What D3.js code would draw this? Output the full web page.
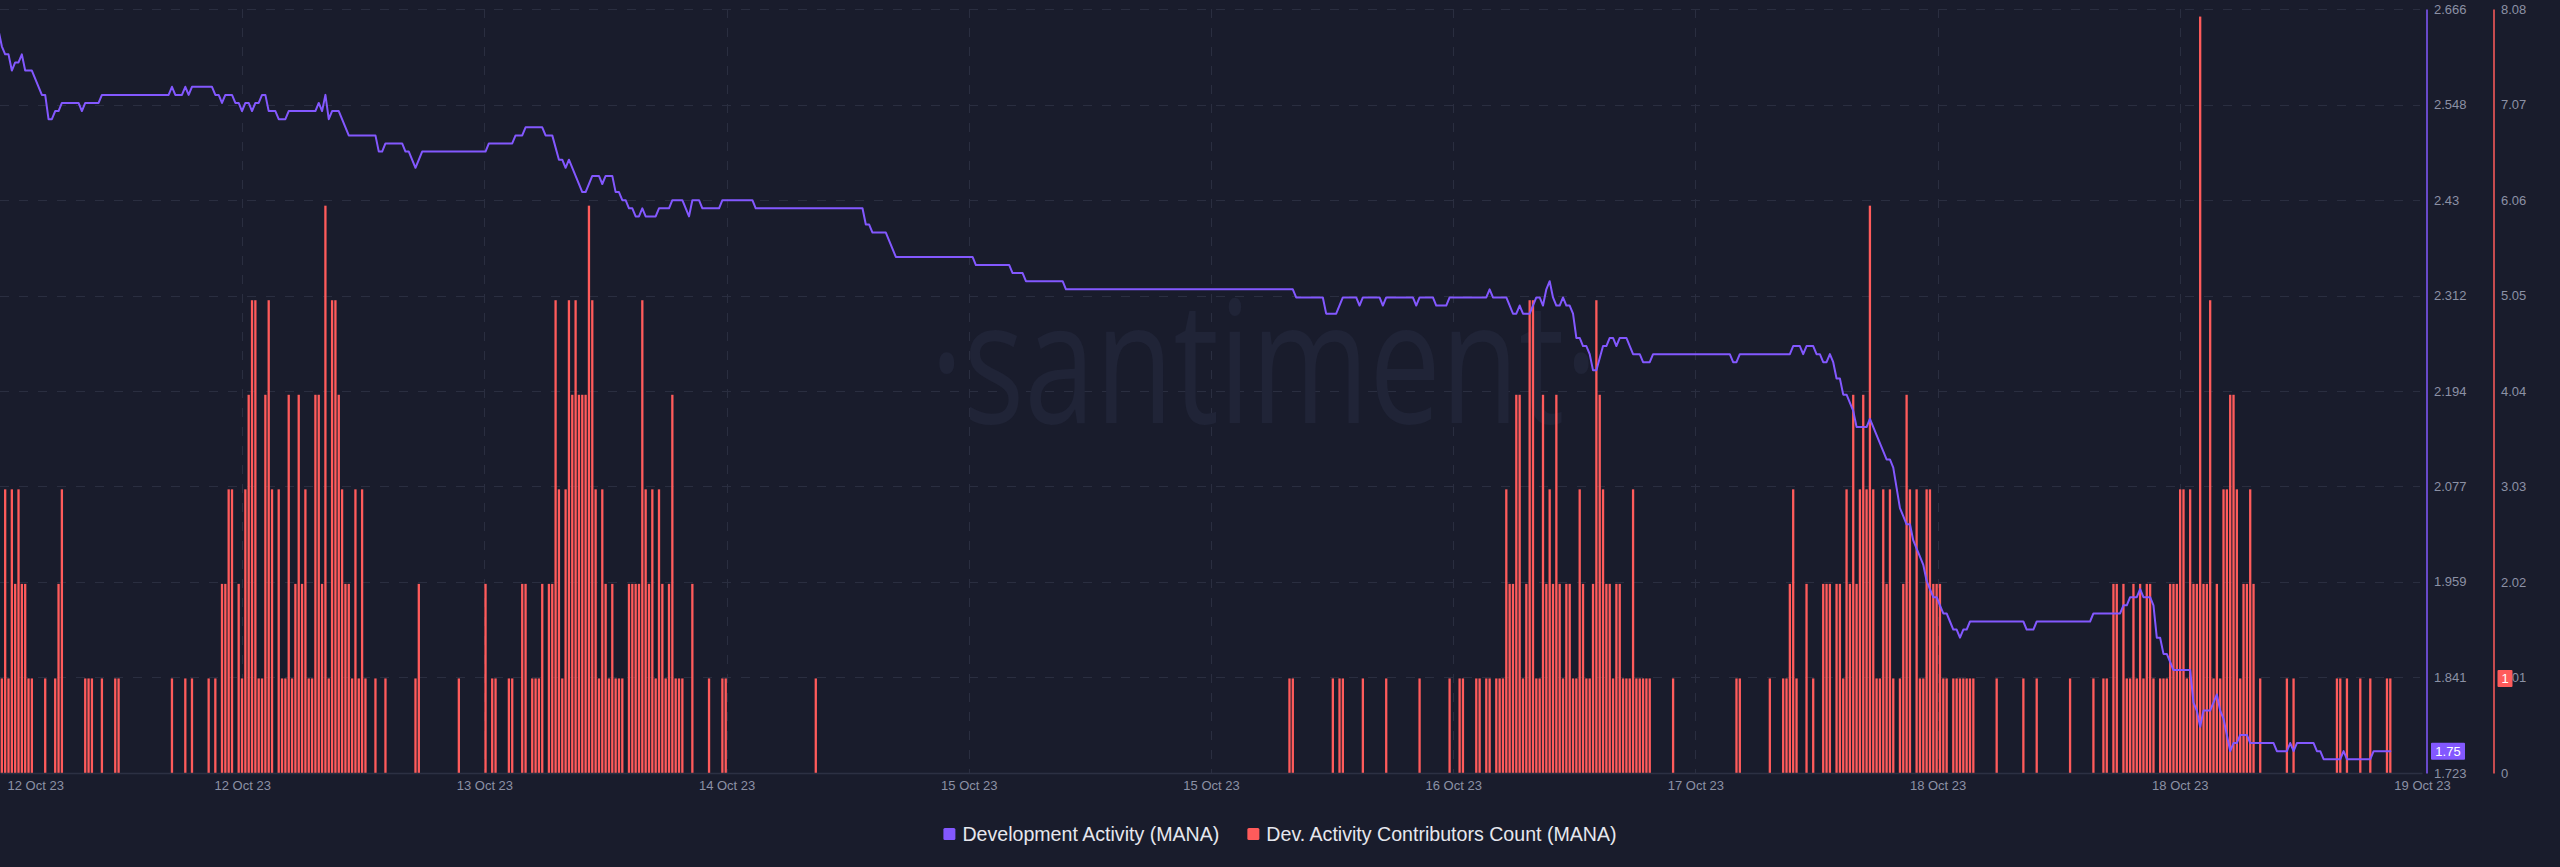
<!DOCTYPE html>
<html><head><meta charset="utf-8">
<script src="https://cdn.jsdelivr.net/npm/d3@7"></script>
<style>
html,body{margin:0;padding:0;background:#191c2c;overflow:hidden}
svg{display:block}
</style></head><body>
<svg id="chart" width="2560" height="867"></svg>
<script>
// ---------- DATA ----------
// time slots: 15-minute buckets starting 12 Oct 2023 01:00 UTC
const startTime = Date.UTC(2023, 9, 12, 1, 0);
const slotMinutes = 15;
const domainStartSlot = 0.45, domainEndSlot = 726.5;
const xTickCount = 11;

const seriesNames = ["Development Activity (MANA)", "Dev. Activity Contributors Count (MANA)"];

// Dev. Activity Contributors Count, one value per slot (0 = no bar)
const contributorsCount = [
6,1,3,1,3,2,3,2,2,1,1,0,0,0,1,0,0,1,2,3,
0,0,0,0,0,0,1,1,1,0,0,1,0,0,0,1,1,0,0,0,
0,0,0,0,0,0,0,0,0,0,0,0,1,0,0,0,1,0,1,0,
0,0,0,1,0,1,0,2,2,3,3,0,2,1,3,4,5,5,1,1,
4,5,3,0,3,1,1,4,1,2,4,2,3,1,1,4,4,2,6,1,
5,5,4,3,2,2,1,3,1,3,1,0,0,1,0,0,1,0,0,0,
0,0,0,0,0,1,2,0,0,0,0,0,0,0,0,0,0,0,1,0,
0,0,0,0,0,0,2,0,1,1,0,0,0,1,1,0,0,2,2,0,
1,1,1,2,0,2,2,5,3,1,3,5,4,5,4,4,4,6,5,3,
1,3,2,1,2,1,1,1,0,2,2,2,2,5,3,2,3,1,3,2,
1,2,4,1,1,1,0,0,2,0,0,0,0,1,0,0,0,1,1,0,
0,0,0,0,0,0,0,0,0,0,0,0,0,0,0,0,0,0,0,0,
0,0,0,0,0,1,0,0,0,0,0,0,0,0,0,0,0,0,0,0,
0,0,0,0,0,0,0,0,0,0,0,0,0,0,0,0,0,0,0,0,
0,0,0,0,0,0,0,0,0,0,0,0,0,0,0,0,0,0,0,0,
0,0,0,0,0,0,0,0,0,0,0,0,0,0,0,0,0,0,0,0,
0,0,0,0,0,0,0,0,0,0,0,0,0,0,0,0,0,0,0,0,
0,0,0,0,0,0,0,0,0,0,0,0,0,0,0,0,0,0,0,0,
0,0,0,0,0,0,0,0,0,0,0,0,0,0,0,0,0,0,0,0,
0,0,0,0,0,0,0,1,1,0,0,0,0,0,0,0,0,0,0,0,
1,0,1,1,0,0,0,0,0,1,0,0,0,0,0,0,1,0,0,0,
0,0,0,0,0,0,1,0,0,0,0,0,0,0,0,1,0,0,1,1,
0,0,0,1,1,0,1,1,0,1,1,1,3,2,2,4,4,1,2,5,
5,1,1,4,2,3,2,4,2,1,2,2,1,1,3,2,1,1,2,5,
4,3,2,2,1,2,2,1,1,1,3,1,1,1,1,1,0,0,0,0,
0,0,1,0,0,0,0,0,0,0,0,0,0,0,0,0,0,0,0,0,
0,1,1,0,0,0,0,0,0,0,0,1,0,0,0,1,1,2,3,1,
0,0,2,0,1,0,0,2,2,2,0,2,2,1,3,2,4,2,3,4,
3,6,3,1,1,3,2,3,1,0,1,2,4,3,0,3,1,1,3,3,
2,2,2,1,1,0,1,1,1,1,1,1,1,0,0,0,0,0,0,1,
0,0,0,0,0,0,0,1,0,0,0,1,0,0,0,0,0,0,0,0,
0,1,0,0,0,0,0,0,1,0,0,1,1,0,2,2,0,2,1,1,
2,1,2,1,2,2,1,0,1,1,1,2,2,2,3,3,1,3,2,2,
8,2,2,5,1,2,1,3,3,4,4,3,1,2,2,3,2,0,1,0,
0,0,0,0,0,0,1,0,1,0,0,0,0,0,0,0,0,0,0,0,
0,1,1,0,1,0,0,0,1,0,0,1,0,0,0,0,1,1
];

// Development Activity: [slot, value] at each change of the line
const devActivity = [
[0,2.64],[1,2.62],[2,2.61],[3,2.61],[4,2.59],[5,2.60],[6,2.60],[7,2.61],[8,2.59],[10,2.59],
[13,2.56],[14,2.56],[15,2.53],[16,2.53],[17,2.54],[18,2.54],[19,2.55],[24,2.55],[25,2.54],[26,2.55],
[30,2.55],[31,2.56],[51,2.56],[52,2.57],[53,2.56],[55,2.56],[56,2.57],[57,2.56],[58,2.57],[64,2.57],
[65,2.56],[66,2.56],[67,2.55],[68,2.56],[70,2.56],[71,2.55],[72,2.55],[73,2.54],[74,2.55],[75,2.55],
[76,2.54],[77,2.55],[78,2.55],[79,2.56],[80,2.56],[81,2.54],[83,2.54],[84,2.53],[86,2.53],[87,2.54],
[95,2.54],[96,2.55],[97,2.54],[98,2.56],[99,2.53],[100,2.54],[102,2.54],[105,2.51],[113,2.51],[114,2.49],
[115,2.49],[116,2.50],[121,2.50],[122,2.49],[123,2.49],[125,2.47],[127,2.49],[146,2.49],[147,2.50],[154,2.50],
[155,2.51],[157,2.51],[158,2.52],[163,2.52],[164,2.51],[166,2.51],[168,2.48],[169,2.48],[170,2.47],[171,2.48],
[173,2.46],[175,2.44],[176,2.44],[178,2.46],[180,2.46],[181,2.45],[182,2.46],[184,2.46],[185,2.44],[186,2.44],
[187,2.43],[188,2.43],[189,2.42],[190,2.42],[191,2.41],[192,2.41],[193,2.42],[194,2.41],[197,2.41],[198,2.42],
[201,2.42],[202,2.43],[205,2.43],[207,2.41],[208,2.43],[210,2.43],[211,2.42],[216,2.42],[217,2.43],[226,2.43],
[227,2.42],[259,2.42],[260,2.40],[261,2.40],[262,2.39],[266,2.39],[269,2.36],[292,2.36],[293,2.35],[303,2.35],
[304,2.34],[307,2.34],[308,2.33],[319,2.33],[320,2.32],[388,2.32],[389,2.31],[397,2.31],[398,2.29],[401,2.29],
[403,2.31],[407,2.31],[408,2.30],[409,2.31],[414,2.31],[415,2.30],[416,2.31],[424,2.31],[425,2.30],[426,2.31],
[430,2.31],[431,2.30],[434,2.30],[435,2.31],[446,2.31],[447,2.32],[448,2.31],[452,2.31],[454,2.29],[455,2.29],
[456,2.30],[457,2.29],[459,2.29],[461,2.31],[462,2.31],[463,2.30],[464,2.32],[465,2.33],[466,2.31],[467,2.30],
[468,2.30],[469,2.31],[470,2.30],[471,2.30],[472,2.29],[473,2.26],[474,2.26],[475,2.25],[476,2.25],[477,2.24],
[478,2.22],[479,2.22],[481,2.25],[482,2.25],[483,2.26],[484,2.26],[485,2.25],[486,2.26],[488,2.26],[490,2.24],
[492,2.24],[493,2.23],[495,2.23],[496,2.24],[519,2.24],[520,2.23],[521,2.23],[522,2.24],[537,2.24],[538,2.25],
[540,2.25],[541,2.24],[542,2.25],[544,2.25],[545,2.24],[546,2.24],[547,2.23],[548,2.23],[549,2.24],[550,2.23],
[551,2.21],[552,2.21],[553,2.19],[554,2.19],[556,2.17],[557,2.15],[560,2.15],[561,2.16],[566,2.11],[567,2.11],
[568,2.10],[570,2.05],[571,2.04],[572,2.03],[573,2.03],[574,2.01],[575,2.00],[576,1.99],[577,1.98],[578,1.96],
[579,1.95],[580,1.94],[581,1.94],[582,1.93],[583,1.92],[584,1.92],[585,1.91],[586,1.90],[587,1.90],[588,1.89],
[589,1.90],[590,1.90],[591,1.91],[607,1.91],[608,1.90],[610,1.90],[611,1.91],[627,1.91],[628,1.92],[636,1.92],
[637,1.93],[638,1.93],[639,1.94],[641,1.94],[642,1.95],[643,1.94],[645,1.94],[646,1.93],[647,1.89],[648,1.89],
[649,1.87],[650,1.87],[652,1.85],[657,1.85],[658,1.81],[659,1.80],[660,1.78],[661,1.80],[663,1.80],[665,1.82],
[666,1.80],[667,1.79],[669,1.75],[670,1.76],[671,1.76],[672,1.77],[674,1.77],[675,1.76],[682,1.76],[683,1.75],
[686,1.75],[687,1.76],[688,1.75],[689,1.76],[694,1.76],[695,1.75],[696,1.75],[697,1.74],[702,1.74],[703,1.75],
[704,1.74],[711,1.74],[712,1.75],[717,1.75]
];

const devTicks = [1.723, 1.841, 1.959, 2.077, 2.194, 2.312, 2.43, 2.548, 2.666];
const countTicks = [0, 1.01, 2.02, 3.03, 4.04, 5.05, 6.06, 7.07, 8.08];
const lastDevLabel = "1.75";
const lastCountLabel = "1";

// ---------- STYLE / LAYOUT ----------
const W = 2560, H = 867;
const plot = {left: 0, right: 2422, top: 9, bottom: 773};
const C = {
  bg: "#191c2c", purple: "#8358ff", red: "#ff5b5b", grid: "#2a2e40",
  axisLine: "#2c3043", tick: "#8c91a5", legend: "#e6e7ee", watermark: "#202437"
};
const FONT = "'Liberation Sans', Arial, Helvetica, sans-serif";

const svg = d3.select("#chart");
svg.append("rect").attr("width", W).attr("height", H).attr("fill", C.bg);

const slotMs = slotMinutes * 60000;
const slotTime = i => new Date(startTime + i * slotMs);

const x = d3.scaleUtc()
  .domain([slotTime(domainStartSlot), slotTime(domainEndSlot)])
  .range([plot.left, plot.right]);
const yDev = d3.scaleLinear()
  .domain([devTicks[0], devTicks[devTicks.length - 1]])
  .range([plot.bottom, plot.top]);
const yCnt = d3.scaleLinear()
  .domain([countTicks[0], countTicks[countTicks.length - 1]])
  .range([plot.bottom, plot.top]);

const [d0, d1] = x.domain();
const xTicks = d3.range(xTickCount).map(k => new Date(+d0 + k * (d1 - d0) / (xTickCount - 1)));

// ---------- GRID ----------
const grid = svg.append("g").attr("shape-rendering", "crispEdges");
grid.selectAll("line.h").data(devTicks.slice(1)).join("line").attr("class", "h")
  .attr("x1", plot.left).attr("x2", plot.right - 2)
  .attr("y1", d => Math.round(yDev(d)) + 0.5).attr("y2", d => Math.round(yDev(d)) + 0.5)
  .attr("stroke", C.grid).attr("stroke-dasharray", "9,10");
grid.selectAll("line.v").data(xTicks.slice(1, -1)).join("line").attr("class", "v")
  .attr("x1", d => Math.round(x(d)) + 0.5).attr("x2", d => Math.round(x(d)) + 0.5)
  .attr("y1", plot.top).attr("y2", plot.bottom)
  .attr("stroke", C.grid).attr("stroke-dasharray", "9,10");

// ---------- WATERMARK ----------
svg.append("text")
  .attr("x", 930).attr("y", 423)
  .attr("textLength", 668).attr("lengthAdjust", "spacingAndGlyphs")
  .attr("font-family", "'Open Sans', 'Noto Sans', sans-serif")
  .attr("font-size", 170)
  .attr("fill", C.watermark)
  .text("·santiment·");

// ---------- CLIP ----------
svg.append("defs").append("clipPath").attr("id", "plotClip")
  .append("rect").attr("x", plot.left).attr("y", 0)
  .attr("width", plot.right - plot.left).attr("height", plot.bottom);

const plotG = svg.append("g").attr("clip-path", "url(#plotClip)");

// ---------- BARS ----------
const barW = 2.3;
const barData = contributorsCount.map((v, i) => ({t: slotTime(i), v})).filter(d => d.v > 0);
plotG.append("g").selectAll("rect").data(barData).join("rect")
  .attr("x", d => x(d.t) - barW / 2)
  .attr("width", barW)
  .attr("y", d => yCnt(d.v))
  .attr("height", d => plot.bottom - yCnt(d.v))
  .attr("fill", C.red);

// ---------- LINE ----------
const lineData = devActivity.map(([s, v]) => ({t: slotTime(s), v}));
plotG.append("path")
  .attr("d", d3.line().x(d => x(d.t)).y(d => yDev(d.v))(lineData))
  .attr("fill", "none").attr("stroke", C.purple)
  .attr("stroke-width", 2).attr("stroke-linejoin", "round").attr("stroke-linecap", "round");

// ---------- X AXIS ----------
const gx = svg.append("g").attr("transform", `translate(0,${plot.bottom})`)
  .call(d3.axisBottom(x).tickValues(xTicks).tickFormat(d3.utcFormat("%d %b %y"))
    .tickSize(0).tickSizeOuter(0).tickPadding(8));
gx.attr("font-family", FONT).attr("font-size", 13);
gx.select(".domain").attr("stroke", C.axisLine).attr("stroke-width", 1.5);
gx.selectAll("text").attr("fill", C.tick);
gx.select(".tick text").attr("text-anchor", "start").attr("x", 7);

// ---------- RIGHT AXES ----------
const devFmt = d => String(+d.toFixed(3));
const cntFmt = d => d === 0 ? "0" : d.toFixed(2);

const gDev = svg.append("g").attr("transform", "translate(2426.5,0)")
  .call(d3.axisRight(yDev).tickValues(devTicks).tickFormat(devFmt)
    .tickSize(0).tickSizeOuter(0).tickPadding(7.5));
gDev.attr("font-family", FONT).attr("font-size", 13);
gDev.select(".domain").attr("stroke", C.purple).attr("stroke-width", 1.5);
gDev.selectAll("text").attr("fill", C.tick);

const gCnt = svg.append("g").attr("transform", "translate(2493.5,0)")
  .call(d3.axisRight(yCnt).tickValues(countTicks).tickFormat(cntFmt)
    .tickSize(0).tickSizeOuter(0).tickPadding(7.5));
gCnt.attr("font-family", FONT).attr("font-size", 13);
gCnt.select(".domain").attr("stroke", C.red).attr("stroke-width", 1.5);
gCnt.selectAll("text").attr("fill", C.tick);

// ---------- LAST VALUE LABELS ----------
const lastDev = devActivity[devActivity.length - 1][1];
const lastCount = contributorsCount[contributorsCount.length - 1];
function valueTag(cx, cy, w, fill, label) {
  const g = svg.append("g");
  g.append("rect").attr("x", cx - w / 2).attr("y", cy - 8.5).attr("width", w).attr("height", 17)
    .attr("rx", 1).attr("fill", fill);
  g.append("text").attr("x", cx).attr("y", cy).attr("dy", "0.35em")
    .attr("text-anchor", "middle").attr("font-family", FONT).attr("font-size", 13)
    .attr("fill", "#ffffff").text(label);
}
valueTag(2448, yDev(lastDev), 34, C.purple, lastDevLabel);
valueTag(2505, yCnt(lastCount), 15, C.red, lastCountLabel);

// ---------- LEGEND ----------
const legend = svg.append("g").attr("font-family", FONT).attr("font-size", 19.6);
const legendColors = [C.purple, C.red];
const items = seriesNames.map((name, i) => {
  const g = legend.append("g");
  g.append("rect").attr("x", 0).attr("y", -6).attr("width", 12).attr("height", 12)
    .attr("rx", 1.5).attr("fill", legendColors[i]);
  const t = g.append("text").attr("x", 19).attr("y", 0).attr("dy", "0.35em")
    .attr("fill", C.legend).text(name);
  return {g, w: 19 + t.node().getComputedTextLength()};
});
const gap = 28;
const total = d3.sum(items, d => d.w) + gap * (items.length - 1);
let cx = W / 2 - total / 2;
items.forEach(it => { it.g.attr("transform", `translate(${cx},834)`); cx += it.w + gap; });
</script>
</body></html>
